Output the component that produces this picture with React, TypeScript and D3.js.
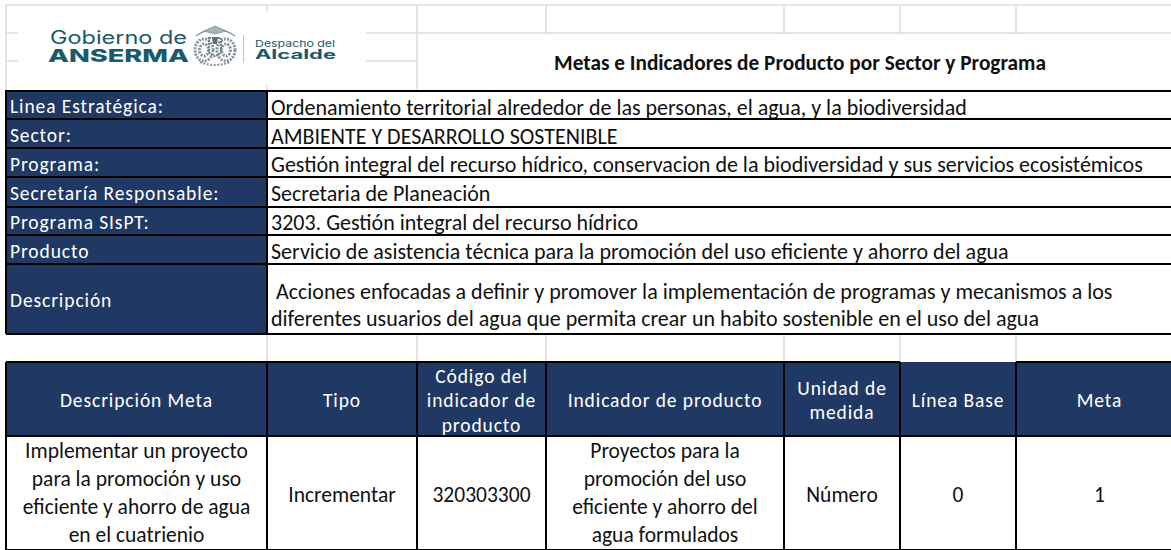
import * as d3 from 'd3'
import React from 'react'

const infoLabels = ['Linea Estratégica:', 'Sector:', 'Programa:', 'Secretaría Responsable:', 'Programa SIsPT:', 'Producto', 'Descripción']
const infoValues = [
    ['Ordenamiento territorial alrededor de las personas, el agua, y la biodiversidad'],
    ['AMBIENTE Y DESARROLLO SOSTENIBLE'],
    ['Gestión integral del recurso hídrico, conservacion de la biodiversidad y sus servicios ecosistémicos'],
    ['Secretaria de Planeación'],
    ['3203. Gestión integral del recurso hídrico'],
    ['Servicio de asistencia técnica para la promoción del uso eficiente y ahorro del agua'],
    [
        ' Acciones enfocadas a definir y promover la implementación de programas y mecanismos a los',
        'diferentes usuarios del agua que permita crear un habito sostenible en el uso del agua',
    ],
]
const headers = [
    ['Descripción Meta'],
    ['Tipo'],
    ['Código del', 'indicador de', 'producto'],
    ['Indicador de producto'],
    ['Unidad de', 'medida'],
    ['Línea Base'],
    ['Meta'],
]
const cells = [
    ['Implementar un proyecto', 'para la promoción y uso', 'eficiente y ahorro de agua', 'en el cuatrienio'],
    ['Incrementar'],
    ['320303300'],
    ['Proyectos para la', 'promoción del uso', 'eficiente y ahorro del', 'agua formulados'],
    ['Número'],
    ['0'],
    ['1'],
]

// the last column runs past the right edge of the picture
const columnEdges = [6, 267, 417, 546, 784, 900, 1016, 1183]
const rowEdges = [91, 119, 148, 177, 207, 235, 264, 334]
const valueNudge = [2.5, 3, 2, 1, 1, 2, 6]
const navy = '#203864'
const teal = '#1b5a68'
const sans = 'Carlito, Calibri, "Open Sans", sans-serif'

const x = d3.scaleOrdinal<number, number>().domain(d3.range(columnEdges.length)).range(columnEdges)

function Lines({ lines, cx, cy, lh, ...rest }: any) {
    const y0 = cy - ((lines.length - 1) * lh) / 2
    return (
        <text fontFamily={sans} {...rest}>
            {lines.map((l: string, i: number) => (
                <tspan key={i} x={cx} y={y0 + i * lh} dominantBaseline="central" xmlSpace="preserve">
                    {l}
                </tspan>
            ))}
        </text>
    )
}

// rough version of the crest in the logo, built from dashed outlines
function Crest() {
    return (
        <g fill="none" stroke="#84939a">
            <path d="M196 36 Q215 22 235 36" strokeWidth={1.4} />
            <path d="M204 31 L215 26 L226 31 L215 34 Z" fill="#a8b3b6" strokeWidth={0.8} />
            <ellipse cx={204} cy={50} rx={9} ry={11} strokeWidth={3} strokeDasharray="2 1.2" />
            <ellipse cx={204} cy={50} rx={4.5} ry={6} strokeWidth={3} strokeDasharray="2 1.2" />
            <ellipse cx={226} cy={50} rx={9} ry={11} strokeWidth={3} strokeDasharray="2 1.2" />
            <ellipse cx={226} cy={50} rx={4.5} ry={6} strokeWidth={3} strokeDasharray="2 1.2" />
            <path d="M209 38 H221 V52 Q215 60 209 52 Z" strokeWidth={2} strokeDasharray="2 1" stroke="#6f8088" />
            <path d="M212 37 L218 37 L217 44 L213 44 Z" fill="#5c7078" stroke="none" />
            <path d="M200 62 Q215 68 230 62" strokeWidth={2} strokeDasharray="2 1.5" />
        </g>
    )
}

export default function App() {
    const grid = '#dcdcdc'
    return (
        <svg
            width={1171}
            height={550}
            style={{ position: 'absolute', left: 0, top: 0, background: '#fff' }}
        >
            {/* gridlines of the sheet behind the table */}
            <g stroke={grid} strokeWidth={1.5}>
                <line x1={6} x2={1171} y1={5} y2={5} />
                <line x1={6} x2={18} y1={33} y2={33} />
                <line x1={6} x2={18} y1={61} y2={61} />
                <line x1={366} x2={1171} y1={33} y2={33} />
                <line x1={366} x2={417} y1={61} y2={61} />
                <line x1={6} x2={6} y1={5} y2={90} />
                <line x1={267} x2={267} y1={5} y2={12} />
                <line x1={267} x2={267} y1={85} y2={90} />
                <line x1={417} x2={417} y1={5} y2={90} />
                {[546, 784, 900, 1016].map((v) => (
                    <line key={v} x1={v} x2={v} y1={5} y2={33} />
                ))}
                {[267, 417, 546, 784, 900, 1016].map((v) => (
                    <line key={v} x1={v} x2={v} y1={335} y2={362} />
                ))}
            </g>

            {/* logo */}
            <g fill={teal}>
                <text x={50} y={44} fontFamily="Inter, sans-serif" fontSize={18} textLength={137} lengthAdjust="spacingAndGlyphs">
                    Gobierno de
                </text>
                <text x={48} y={62} fontFamily="Inter, sans-serif" fontWeight={800} fontSize={18} textLength={141} lengthAdjust="spacingAndGlyphs">
                    ANSERMA
                </text>
                <text x={255} y={47} fontFamily="Inter, sans-serif" fontSize={9.5} textLength={80} lengthAdjust="spacingAndGlyphs">
                    Despacho del
                </text>
                <text x={255} y={59} fontFamily="Inter, sans-serif" fontWeight={700} fontSize={12.5} textLength={81} lengthAdjust="spacingAndGlyphs">
                    Alcalde
                </text>
                <rect x={243} y={35} width={1} height={28} fill="#b9c7cb" />
            </g>
            <Crest />

            <text x={800} y={63} textAnchor="middle" dominantBaseline="central" fontFamily={sans} fontWeight={700} fontSize={21.3} fill="#111">
                Metas e Indicadores de Producto por Sector y Programa
            </text>

            {/* info rows */}
            {infoLabels.map((label, i) => (
                <rect key={label} x={x(0)} y={rowEdges[i]} width={x(1) - x(0)} height={rowEdges[i + 1] - rowEdges[i]} fill={navy} />
            ))}
            <g stroke="#000" strokeWidth={2}>
                {rowEdges.map((v) => (
                    <line key={v} x1={6} x2={1171} y1={v} y2={v} />
                ))}
                <line x1={6} x2={6} y1={90} y2={334} />
                <line x1={267} x2={267} y1={90} y2={334} />
            </g>
            {infoLabels.map((label, i) => {
                const mid = (rowEdges[i] + rowEdges[i + 1]) / 2
                return (
                    <g key={label}>
                        <Lines lines={[label]} cx={10} cy={mid + 1} lh={26} fontSize={19.5} fill="#fff" letterSpacing={0.9} />
                        <Lines lines={infoValues[i]} cx={271} cy={mid + valueNudge[i]} lh={27.5} fontSize={22} fill="#111" />
                    </g>
                )
            })}

            {/* bottom table */}
            <rect x={6} y={362} width={1165} height={74} fill={navy} />
            {headers.map((h, i) => (
                <Lines key={i} lines={h} cx={(x(i) + x(i + 1)) / 2} cy={400} lh={24.5} textAnchor="middle" fontSize={19.5} fill="#fff" letterSpacing={0.9} />
            ))}
            {cells.map((c, i) => (
                <Lines key={i} lines={c} cx={(x(i) + x(i + 1)) / 2} cy={c.length > 1 ? 493 : 495} lh={28} textAnchor="middle" fontSize={21.5} fill="#111" />
            ))}
            <g stroke="#000" strokeWidth={2}>
                <line x1={6} x2={900} y1={362} y2={362} />
                <line x1={1016} x2={1171} y1={362} y2={362} />
                <line x1={6} x2={1171} y1={436} y2={436} />
                <line x1={6} x2={1171} y1={550} y2={550} />
                {columnEdges.slice(0, -1).map((v) => (
                    <line key={v} x1={v} x2={v} y1={362} y2={550} />
                ))}
            </g>
        </svg>
    )
}
